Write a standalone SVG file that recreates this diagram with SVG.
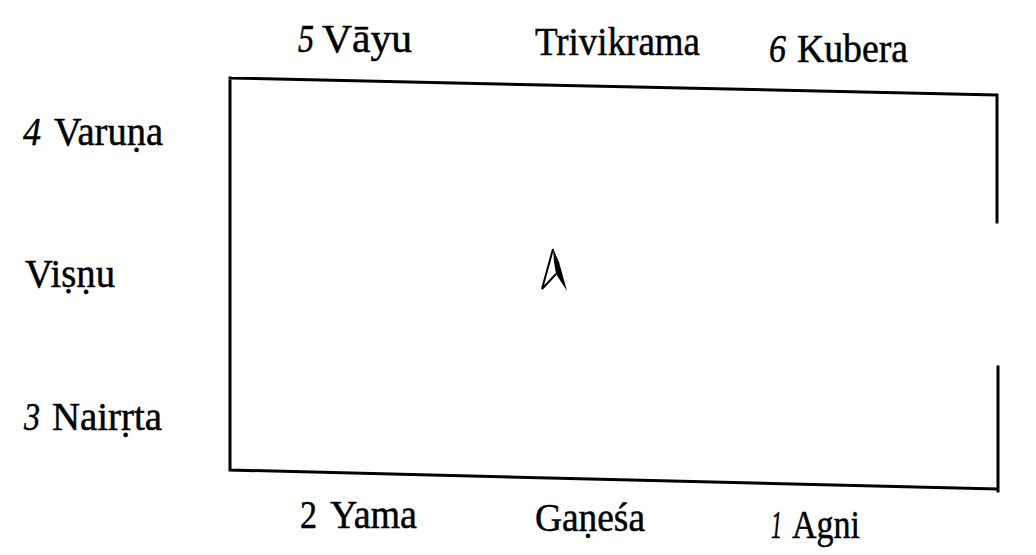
<svg xmlns="http://www.w3.org/2000/svg" width="1036" height="555" viewBox="0 0 1036 555">
<style>
.l{fill:none;stroke:#000;stroke-width:3;stroke-linecap:square}
.t{font-family:"Liberation Serif","DejaVu Serif",serif;font-size:40px;fill:#000;stroke:#000;stroke-width:0.5}
.n{font-style:italic}
</style>
<rect width="1036" height="555" fill="#fff"/>
<g id="plan">
<path class="l" d="M230,78 L997,95 M230,78 L230,470 L998,489 M997,97 L997,222 M998,367 L998,491"/>
</g>
<g id="marker-a">
<path d="M553,249 L542,289 L556,274" fill="none" stroke="#000" stroke-width="2" stroke-linejoin="miter"/>
<path d="M553,248 L559,262 L567,291 L556,274 L554,262 Z" fill="#000"/>
</g>
<g id="labels">
<text class="t n" x="298" y="52" textLength="16" lengthAdjust="spacingAndGlyphs">5</text>
<text class="t" x="322" y="52" textLength="90" lengthAdjust="spacingAndGlyphs">Vāyu</text>
<text class="t" x="535" y="55" textLength="165" lengthAdjust="spacingAndGlyphs">Trivikrama</text>
<text class="t n" x="769" y="62" textLength="17" lengthAdjust="spacingAndGlyphs">6</text>
<text class="t" x="797" y="62" textLength="111" lengthAdjust="spacingAndGlyphs">Kubera</text>
<text class="t n" x="23" y="145" textLength="18" lengthAdjust="spacingAndGlyphs">4</text>
<text class="t" x="54" y="145" textLength="109" lengthAdjust="spacingAndGlyphs">Varuṇa</text>
<text class="t" x="25" y="287" textLength="90" lengthAdjust="spacingAndGlyphs">Viṣṇu</text>
<text class="t n" x="24" y="430" textLength="16" lengthAdjust="spacingAndGlyphs">3</text>
<text class="t" x="52" y="430" textLength="110" lengthAdjust="spacingAndGlyphs">Nairṛta</text>
<text class="t" x="300" y="528" textLength="17" lengthAdjust="spacingAndGlyphs">2</text>
<text class="t" x="330" y="528" textLength="87" lengthAdjust="spacingAndGlyphs">Yama</text>
<text class="t" x="535" y="531" textLength="110" lengthAdjust="spacingAndGlyphs">Gaṇeśa</text>
<text class="t n" x="771" y="538" textLength="11" lengthAdjust="spacingAndGlyphs">1</text>
<text class="t" x="792" y="538" textLength="68" lengthAdjust="spacingAndGlyphs">Agni</text>
</g>
</svg>
